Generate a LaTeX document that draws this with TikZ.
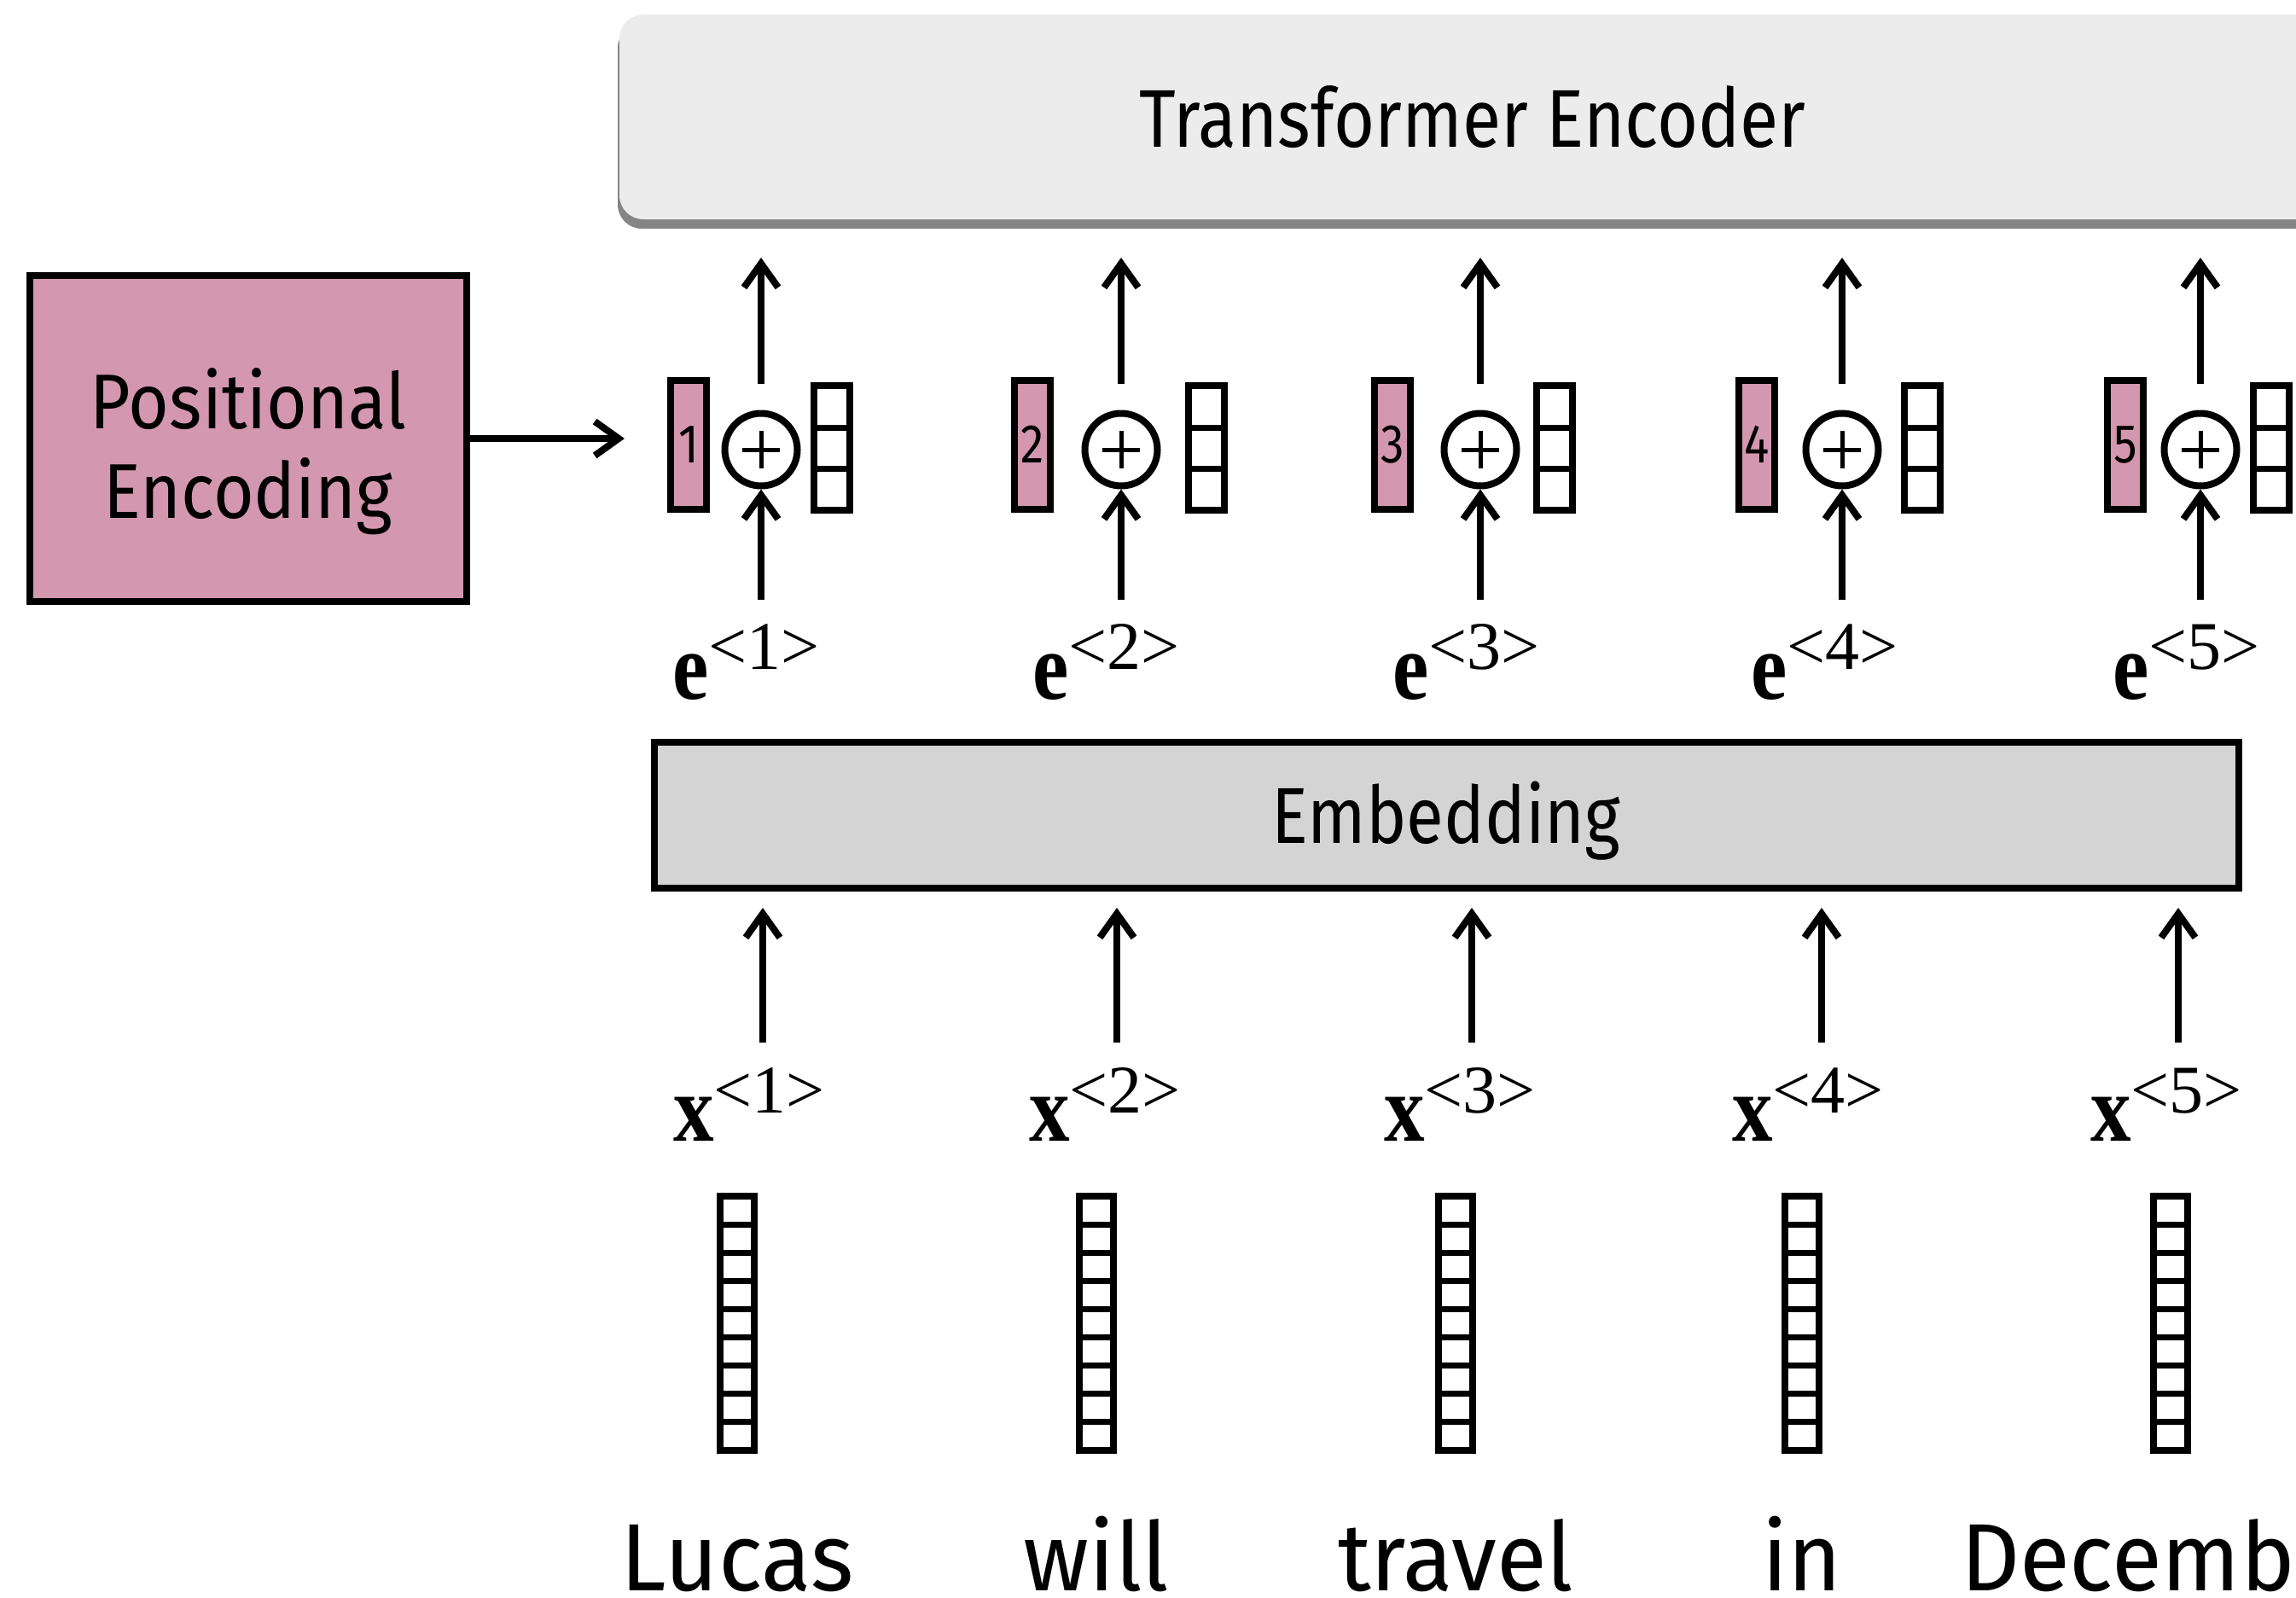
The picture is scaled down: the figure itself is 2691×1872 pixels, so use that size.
\documentclass[tikz,border=0pt]{standalone}
\usepackage{fontspec}
\usepackage{graphicx}
\setmainfont{Fira Sans}
\newfontfamily\mathserif{Liberation Serif}
\usetikzlibrary{arrows.meta,shadows}

\definecolor{pecol}{RGB}{211,151,176}
\definecolor{encfill}{RGB}{236,236,236}
\definecolor{encshadow}{RGB}{133,133,133}
\definecolor{embfill}{RGB}{212,212,212}

\newcommand\fsz[1]{\fontsize{#1}{#1}\selectfont}
% bold vector symbol with a time-step superscript
\newcommand\tok[3]{{\mathserif\fsz{112}\bfseries\scalebox{0.85}[1]{#1}}\raisebox{#3pt}{\mathserif\fsz{80}<#2>}}

\tikzset{
  x=1pt, y=-1pt,
  arr/.style={line width=8pt, -{Straight Barb[length=28pt,width=40pt]}},
  vecbox/.style={draw, line width=8pt, inner sep=0pt},
  cellline/.style={line width=7pt},
  pinkvec/.style={vecbox, fill=pecol, minimum width=42pt, minimum height=151pt, font=\fsz{64}},
  whitevec/.style={vecbox, fill=white, minimum width=42pt, minimum height=146pt},
  wordvec/.style={vecbox, fill=white, minimum width=40pt, minimum height=298pt},
  addop/.style={circle, draw, line width=8pt, minimum size=85pt, inner sep=0pt, fill=white},
  word/.style={anchor=base, inner sep=0pt, font=\fsz{112}},
  toklabel/.style={anchor=base west, inner sep=0pt},
}

\begin{document}
\begin{tikzpicture}
\useasboundingbox (0,0) rectangle (2691,1872);

% encoder block (runs past the right edge)
\node[draw=none, fill=encfill, rounded corners=28pt, minimum width=2000pt, minimum height=240pt,
      drop shadow={shadow xshift=-2pt, shadow yshift=-11pt, fill=encshadow, opacity=1},
      font=\fsz{96}] (enc) at (1726,137) {\scalebox{0.86}[1]{Transformer Encoder}};

% positional encoding block and its caption
\node[draw, line width=8pt, fill=pecol, minimum width=512pt, minimum height=382pt] (pe) at (291,514) {};
\node[align=center, font=\fsz{91}] (petext) at (291,529)
      {\scalebox{0.9}[1]{Positional}\\[14pt]\scalebox{0.9}[1]{Encoding}};

% embedding block
\node[draw, line width=8pt, fill=embfill, minimum width=1857pt, minimum height=171pt,
      font=\fsz{93}] (emb) at (1695,955) {\raisebox{-33pt}[0pt][0pt]{\scalebox{0.86}[1]{Embedding}}};

% one column per time step
\foreach \i/\cx/\pc/\wc/\el/\xl/\vc/\ax/\wrd in {
    1/892/807/975/788/789/864/894/Lucas,
    2/1314/1210/1414/1210/1206/1285/1309/will,
    3/1735/1632/1822/1632/1622/1706/1725/travel,
    4/2159/2059/2253/2052/2030/2112/2135/in,
    5/2579/2491/2662/2476/2450/2544/2553/December} {
  \node[addop] (add\i) at (\cx,527) {};
  \draw[line width=5pt] ([xshift=-22pt]add\i.center) -- ([xshift=22pt]add\i.center)
                        ([yshift=-22pt]add\i.center) -- ([yshift=22pt]add\i.center);
  \node[pinkvec] (pos\i) at (\pc,521) {\scalebox{0.86}[1]{\i}};
  \node[whitevec] (sum\i) at (\wc,525) {};
  \draw[cellline] ([yshift=24pt,xshift=21pt]sum\i.center) -- ([yshift=24pt,xshift=-21pt]sum\i.center)
                  ([yshift=-24pt,xshift=21pt]sum\i.center) -- ([yshift=-24pt,xshift=-21pt]sum\i.center);
  \node[toklabel] (e\i) at (\el,819) {\tok{e}{\i}{35}};
  \node[toklabel] (x\i) at (\xl,1337) {\tok{x}{\i}{33}};
  \node[wordvec] (v\i) at (\vc,1551) {};
  \foreach \k in {1,...,8}
    \draw[cellline] ([xshift=-20pt,yshift=149pt-\k*33.11pt]v\i.center) -- ++(40pt,0);
  \node[word] (w\i) at (\vc,1864) {\scalebox{0.96}[1]{\wrd}};
  % connectors
  \coordinate (etop\i) at (\cx,703);
  \coordinate (sumtop\i) at (\cx,450);
  \coordinate (encin\i) at (\cx,302);
  \coordinate (xtop\i) at (\ax,1222);
  \coordinate (embin\i) at (\ax,1064);
  \draw[arr] (etop\i) -- (add\i.south);
  \draw[arr] (sumtop\i) -- (encin\i);
  \draw[arr] (xtop\i) -- (embin\i);
}

\draw[arr] (pe.east) -- ([xshift=-50pt]pos1.west |- pe.east);
\end{tikzpicture}
\end{document}
